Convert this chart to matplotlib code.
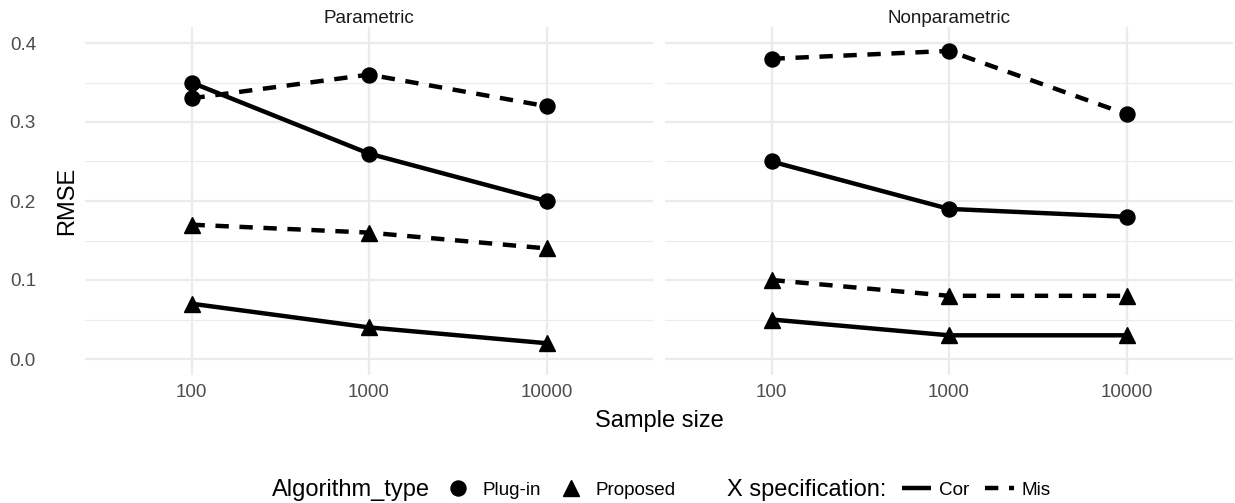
import matplotlib
matplotlib.use('Agg')
import matplotlib.pyplot as plt
from matplotlib.lines import Line2D

plt.rcParams['font.family'] = ['Liberation Sans', 'DejaVu Sans']

# data
sample_sizes = ['100', '1000', '10000']
panels = ['Parametric', 'Nonparametric']

param_plugin_cor = [0.35, 0.26, 0.20]
param_plugin_mis = [0.33, 0.36, 0.32]
param_proposed_cor = [0.07, 0.04, 0.02]
param_proposed_mis = [0.17, 0.16, 0.14]

nonpar_plugin_cor = [0.25, 0.19, 0.18]
nonpar_plugin_mis = [0.38, 0.39, 0.31]
nonpar_proposed_cor = [0.05, 0.03, 0.03]
nonpar_proposed_mis = [0.10, 0.08, 0.08]

series = {
    'Parametric': [(param_plugin_cor, 'o', '-'), (param_plugin_mis, 'o', '--'),
                   (param_proposed_cor, '^', '-'), (param_proposed_mis, '^', '--')],
    'Nonparametric': [(nonpar_plugin_cor, 'o', '-'), (nonpar_plugin_mis, 'o', '--'),
                      (nonpar_proposed_cor, '^', '-'), (nonpar_proposed_mis, '^', '--')],
}

W, H = 1235, 503
fig = plt.figure(figsize=(W / 100, H / 100), dpi=100)


def px_box(x0, y0, x1, y1):
    return [x0 / W, 1 - y1 / H, (x1 - x0) / W, (y1 - y0) / H]


boxes = [px_box(85, 27.2, 653, 374.8), px_box(665, 27.2, 1233, 374.8)]
grid_col = '#EBEBEB'
LW = 3.2
DASH = (0, (3, 2.4))

for i, panel in enumerate(panels):
    ax = fig.add_axes(boxes[i])
    xs = list(range(len(sample_sizes)))
    for vals, mk, ls in series[panel]:
        ax.plot(xs, vals, color='black', lw=LW, ls=DASH if ls == '--' else '-',
                solid_capstyle='butt', dash_capstyle='butt', zorder=2)
    for vals, mk, ls in series[panel]:
        ax.plot(xs, vals, ls='none', marker=mk, color='black',
                ms=10.8 if mk == 'o' else 11.5, zorder=3)

    ax.set_xlim(-0.6, 2.6)
    ax.set_ylim(-0.02, 0.42)
    ax.set_xticks(xs)
    ax.set_xticklabels(sample_sizes)
    ax.set_yticks([0.0, 0.1, 0.2, 0.3, 0.4])
    ax.set_yticks([0.05, 0.15, 0.25, 0.35], minor=True)
    ax.set_yticklabels(['0.0', '0.1', '0.2', '0.3', '0.4'])
    ax.grid(which='major', color=grid_col, lw=1.65)
    ax.grid(which='minor', axis='y', color=grid_col, lw=0.83)
    ax.set_axisbelow(True)
    for s in ax.spines.values():
        s.set_visible(False)
    ax.tick_params(which='both', length=0, labelsize=13.6, labelcolor='#4D4D4D')
    ax.tick_params(axis='x', pad=6.5)
    ax.tick_params(axis='y', pad=35.3)
    if i > 0:
        ax.tick_params(axis='y', labelleft=False)
    ax.set_title(panel, fontsize=13.6, color='#1A1A1A', pad=1.5)

fig.text(67 / W, 1 - 201 / H, 'RMSE', rotation=90, ha='center', va='center', fontsize=17)
fig.text(659 / W, 1 - 421 / H, 'Sample size', ha='center', va='center', fontsize=17)

# legends along the bottom
ly = 1 - 490 / H
fig.text(272 / W, ly, 'Algorithm_type', ha='left', va='center', fontsize=17)
fig.text(727 / W, ly, 'X specification:', ha='left', va='center', fontsize=17)

shape_handles = [Line2D([], [], ls='none', marker='o', color='black', ms=10.8),
                 Line2D([], [], ls='none', marker='^', color='black', ms=11.5)]
fig.legend(shape_handles, ['Plug-in', 'Proposed'], ncol=2, loc='center left',
           bbox_to_anchor=(439.5 / W, ly), frameon=False, fontsize=13.6,
           handlelength=1.95, handletextpad=0.34, columnspacing=0.6,
           borderpad=0, borderaxespad=0)

line_handles = [Line2D([], [], color='black', lw=LW, ls='-', solid_capstyle='butt'),
                Line2D([], [], color='black', lw=LW, ls=DASH, dash_capstyle='butt')]
fig.legend(line_handles, ['Cor', 'Mis'], ncol=2, loc='center left',
           bbox_to_anchor=(902 / W, ly), frameon=False, fontsize=13.6,
           handlelength=1.56, handletextpad=0.39, columnspacing=0.84,
           borderpad=0, borderaxespad=0)

fig.savefig('out.png', dpi=100)
